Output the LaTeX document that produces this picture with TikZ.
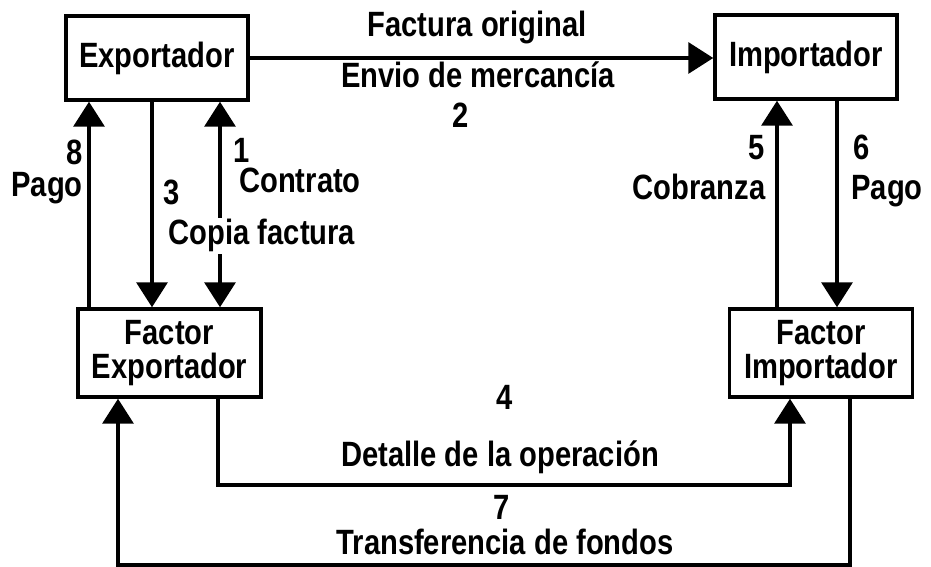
\documentclass[tikz,border=0pt]{standalone}
\usepackage{fontspec}
\setmainfont{Liberation Sans}[FakeStretch=0.83]
\usetikzlibrary{arrows.meta}

\tikzset{
  caja/.style={draw, line width=2pt, align=center, inner sep=0pt},
  etiq/.style={anchor=base, inner sep=0pt},
}

\begin{document}
\begin{tikzpicture}[x=0.02cm, y=-0.02cm, line width=2pt,
    >={Triangle[width=0.62cm,length=0.5cm]},
    font=\bfseries\fontsize{20}{19.5}\selectfont]
  \useasboundingbox (0,0) rectangle (931,567);

  % Cajas
  \node[caja, minimum width=3.64cm, minimum height=1.68cm] (exp) at (157,58) {Exportador};
  \node[caja, minimum width=3.64cm, minimum height=1.68cm] (imp) at (806,57) {Importador};
  \node[caja, minimum width=3.66cm, minimum height=1.76cm] (fexp) at (169.5,353) {Factor\\Exportador};
  \node[caja, minimum width=3.66cm, minimum height=1.76cm] (fimp) at (821,353) {Factor\\Importador};

  % Flujos
  \draw[->] (exp.east) -- (exp.east -| imp.west);
  \draw[->] (89,0 |- fexp.north) -- (89,0 |- exp.south);
  \draw[->] (152,0 |- exp.south) -- (152,0 |- fexp.north);
  \draw[<->] (220,0 |- exp.south) -- (220,0 |- fexp.north);
  \draw[->] (777,0 |- fimp.north) -- (777,0 |- imp.south);
  \draw[->] (837,0 |- imp.south) -- (837,0 |- fimp.north);
  \draw[->] (218,0 |- fexp.south) -- ++(0,86) -| (790,0 |- fimp.south);
  \draw[->] (850,0 |- fimp.south) -- ++(0,166) -| (118,0 |- fexp.south);

  % Textos
  \node[etiq] (fo) at (477,37) {Factura original};
  \node[etiq] (em) at (478,88) {Envio de mercancía};
  \node[etiq] (n2) at (461,128) {2};
  \node[etiq] (n8) at (75,165) {8};
  \node[etiq] (pago1) at (47,197) {Pago};
  \node[etiq] (n3) at (172,205) {3};
  \node[etiq] (n1) at (242,163) {1};
  \node[etiq] (contrato) at (300,193) {Contrato};
  \node[etiq, fill=white, inner sep=1pt] (copia) at (262,245) {Copia factura};
  \node[etiq] (n5) at (757,160) {5};
  \node[etiq] (cobranza) at (699,200) {Cobranza};
  \node[etiq] (n6) at (862,160) {6};
  \node[etiq] (pago2) at (887,200) {Pago};
  \node[etiq] (n4) at (505,410) {4};
  \node[etiq] (detalle) at (500,467) {Detalle de la operación};
  \node[etiq] (n7) at (502,520) {7};
  \node[etiq] (transf) at (505,555) {Transferencia de fondos};

\end{tikzpicture}
\end{document}
